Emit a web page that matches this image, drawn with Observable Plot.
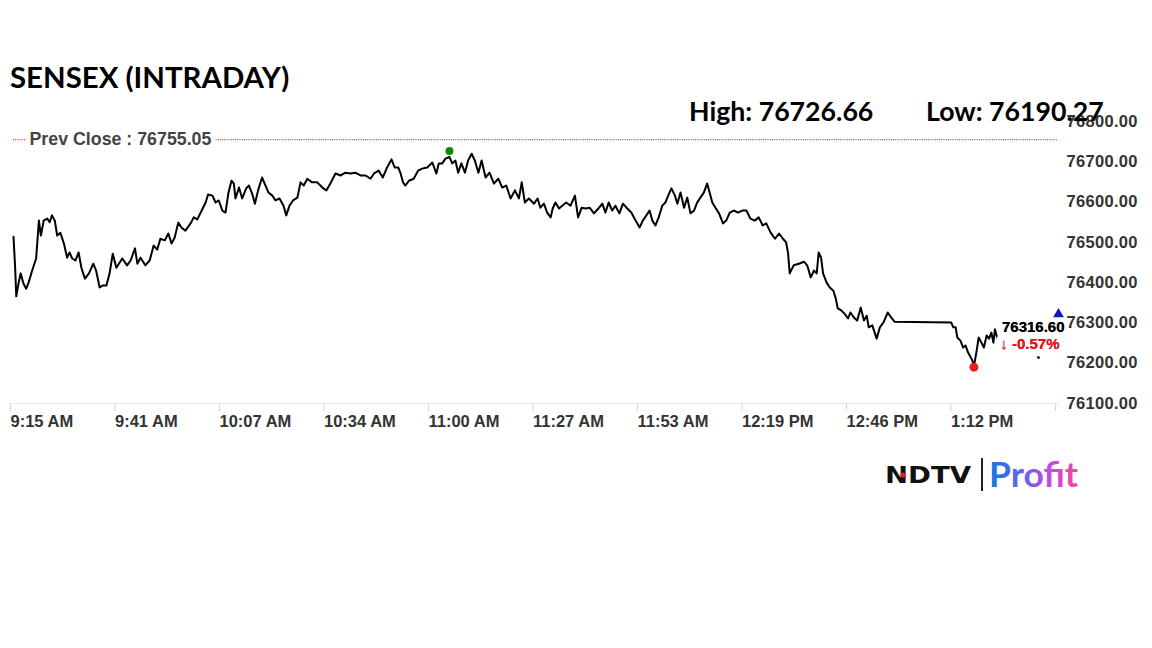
<!DOCTYPE html>
<html>
<head>
<meta charset="utf-8">
<script src="https://cdn.jsdelivr.net/npm/d3@7"></script>
<script src="https://cdn.jsdelivr.net/npm/@observablehq/plot@0.6"></script>
<style>
  html, body { margin: 0; padding: 0; background: #fff; }
  #wrap { position: relative; width: 1152px; height: 648px; overflow: hidden; }
  #overlay { position: absolute; left: 0; top: 0; pointer-events: none; }
  g[aria-label="y-axis tick label"] text { letter-spacing: 0.3px; }
</style>
</head>
<body>
<div id="wrap"></div>
<script>
// ---------------- DATA ----------------
const titleText = "SENSEX (INTRADAY)";
const prevClose = 76755.05;
const dayHigh = 76726.66;
const highTime = 109.8;   // minutes after 9:15
const dayLow = 76190.27;
const lowTime = 241.9;
const lastPrice = 76316.60;
const changePct = -0.57;

// minutes after 9:15 AM
const times = [
  0, 0.4, 0.7, 1.3, 1.8, 2.5, 3.2, 3.8, 4.7, 5.7,
  6.4, 6.9, 7.6, 8.5, 9.1, 9.7, 10.4, 11.0, 11.8, 12.7,
  13.5, 14.1, 14.8, 15.6, 16.4, 17.1, 18.0, 19.0, 20.1, 20.8,
  21.7, 22.5, 23.4, 24.2, 25.0, 25.9, 27.4, 28.6, 29.5, 30.6,
  31.2, 32.0, 33.2, 34.3, 35.3, 36.2, 37.0, 38.1, 39.0, 39.8,
  40.6, 41.5, 42.3, 43.3, 44.6, 45.4, 46.3, 47.4, 48.4, 49.0,
  50.1, 50.9, 51.7, 52.6, 53.4, 54.1, 54.9, 55.5, 55.9, 56.8,
  57.6, 58.6, 59.3, 60.1, 60.8, 61.6, 62.6, 63.5, 64.2, 65.2,
  66.0, 67.0, 68.0, 68.7, 69.5, 70.4, 71.5, 72.3, 73.1, 74.0,
  75.2, 76.5, 77.8, 78.8, 79.8, 81.1, 82.4, 83.6, 84.9, 86.1,
  87.4, 88.7, 89.9, 90.8, 92.0, 93.0, 94.1, 95.2, 96.0, 96.9,
  97.5, 98.1, 98.7, 99.6, 100.8, 101.9, 102.9, 104.2, 105.5, 106.5,
  107.1, 108.0, 108.8, 109.8, 110.5, 111.3, 112.0, 112.8, 113.7, 114.5,
  115.4, 116.2, 117.1, 117.9, 118.9, 119.9, 121.0, 122.1, 123.1, 124.1,
  125.2, 126.3, 127.3, 128.0, 128.8, 129.8, 131.1, 132.0, 132.7, 133.6,
  134.4, 135.3, 135.8, 136.5, 137.4, 138.2, 139.2, 140.3, 141.4, 142.2,
  143.1, 144.1, 145.1, 146.2, 147.3, 148.3, 149.1, 149.9, 150.8, 151.6,
  152.6, 153.5, 154.6, 155.6, 156.7, 157.7, 158.5, 159.4, 160.2, 160.9,
  161.7, 162.5, 163.4, 164.2, 164.9, 165.7, 166.6, 167.2, 168.0, 168.9,
  169.7, 170.5, 171.4, 172.2, 173.0, 173.9, 174.7, 175.4, 176.0, 176.8,
  177.7, 178.7, 179.5, 180.4, 181.4, 182.5, 183.5, 184.6, 185.6, 186.7,
  187.7, 188.7, 189.6, 190.7, 191.8, 192.8, 193.8, 194.6, 195.1, 195.5,
  196.5, 197.8, 199.1, 199.9, 200.8, 201.6, 202.3, 202.8, 203.4, 203.9,
  204.8, 205.6, 206.5, 207.1, 207.6, 208.5, 209.3, 210.2, 210.8, 211.7,
  212.5, 213.4, 214.2, 214.9, 215.4, 216.3, 217.4, 218.2, 219.1, 220.2,
  221.1, 221.9, 236.2, 236.7, 237.3, 237.7, 238.5, 239.2, 239.8, 240.4,
  241.5, 241.9, 242.6, 243.1, 243.8, 244.4, 245.1, 245.7, 246.3, 246.8,
  247.2, 248.8, 250.1, 252.4, 254.9, 256.9, 258.2, 259.2, 260.7, 261.7
];
const prices = [
  76514, 76440, 76366, 76400, 76423, 76398, 76385, 76400, 76430, 76460,
  76554, 76517, 76554, 76559, 76550, 76567, 76554, 76517, 76524, 76497,
  76462, 76475, 76460, 76455, 76475, 76437, 76410, 76423, 76447, 76430,
  76388, 76393, 76393, 76423, 76472, 76437, 76460, 76443, 76455, 76485,
  76447, 76462, 76443, 76455, 76492, 76482, 76509, 76505, 76522, 76497,
  76512, 76549, 76537, 76529, 76547, 76562, 76557, 76579, 76599, 76619,
  76616, 76599, 76604, 76579, 76574, 76621, 76653, 76646, 76609, 76636,
  76609, 76634, 76641, 76621, 76596, 76629, 76661, 76640, 76624, 76616,
  76604, 76609, 76591, 76567, 76591, 76604, 76611, 76649, 76641, 76658,
  76649, 76649, 76636, 76629, 76646, 76671, 76666, 76673, 76671, 76673,
  76666, 76666, 76658, 76671, 76678, 76661, 76686, 76706, 76686, 76686,
  76671, 76649, 76641, 76653, 76658, 76678, 76683, 76686, 76698, 76671,
  76696, 76696, 76708, 76712, 76696, 76703, 76673, 76696, 76673, 76703,
  76720, 76703, 76673, 76703, 76661, 76673, 76646, 76658, 76636, 76641,
  76609, 76629, 76609, 76649, 76599, 76609, 76596, 76609, 76586, 76596,
  76574, 76562, 76584, 76599, 76584, 76591, 76599, 76591, 76616, 76562,
  76586, 76584, 76586, 76572, 76584, 76596, 76574, 76599, 76579, 76591,
  76572, 76596, 76584, 76574, 76554, 76537, 76554, 76567, 76579, 76554,
  76542, 76562, 76591, 76599, 76616, 76634, 76616, 76596, 76624, 76586,
  76611, 76572, 76579, 76599, 76611, 76624, 76646, 76621, 76599, 76586,
  76572, 76547, 76554, 76574, 76579, 76574, 76579, 76579, 76559, 76554,
  76562, 76542, 76547, 76524, 76509, 76522, 76509, 76500, 76472, 76423,
  76443, 76447, 76452, 76443, 76413, 76430, 76423, 76475, 76462, 76423,
  76400, 76388, 76380, 76361, 76336, 76331, 76323, 76311, 76326, 76313,
  76306, 76338, 76306, 76318, 76289, 76294, 76261, 76289, 76301, 76326,
  76313, 76303, 76301, 76289, 76289, 76264, 76256, 76239, 76244, 76227,
  76207, 76192, 76232, 76264, 76251, 76239, 76269, 76261, 76276, 76251,
  76284, 76226, 76270, 76255, 76262, 76240, 76213, 76250, 76290, 76316.6
];

const xTickLabels = ["9:15 AM", "9:41 AM", "10:07 AM", "10:34 AM", "11:00 AM",
  "11:27 AM", "11:53 AM", "12:19 PM", "12:46 PM", "1:12 PM", ""];
const sessionSpan = 263.2; // minutes shown on the axis
const yTicks = [76100, 76200, 76300, 76400, 76500, 76600, 76700, 76800];

// ---------------- BUILD ----------------
const n = Math.min(times.length, prices.length);
const series = d3.range(n).map(i => ({m: times[i], p: prices[i]}));
const step = sessionSpan / (xTickLabels.length - 1);
const xTicks = xTickLabels.map((_, i) => i * step);
const last = series[series.length - 1];

const chart = Plot.plot({
  width: 1152,
  height: 648,
  marginLeft: 13,
  marginRight: 94,
  marginTop: 121,
  marginBottom: 245,
  x: {domain: [0, sessionSpan]},
  y: {domain: [yTicks[0], yTicks[yTicks.length - 1]]},
  style: {fontFamily: "'Liberation Sans', Arial, sans-serif", background: "white", overflow: "visible"},
  marks: [
    Plot.ruleY([yTicks[0]], {stroke: "#e3e3e3", strokeWidth: 1}),
    Plot.axisX({
      ticks: xTicks,
      tickFormat: d => xTickLabels[Math.round(d / step)],
      textAnchor: "start",
      tickSize: 8,
      tickPadding: 4,
      dx: -3,
      stroke: "#d6d6d6",
      fill: "#333",
      fontSize: 16.5,
      fontWeight: "bold",
      label: null
    }),
    Plot.ruleY([prevClose], {stroke: "#e03a3a", strokeWidth: 1.1, strokeDasharray: "1,1.2"}),
    Plot.text([prevClose], {
      y: d => d,
      frameAnchor: "left",
      dx: 16,
      text: d => "Prev Close : " + d.toFixed(2),
      textAnchor: "start",
      fill: "#444",
      stroke: "white",
      strokeWidth: 9,
      fontSize: 17.8,
      fontWeight: "bold"
    }),
    Plot.line(series, {x: "m", y: "p", stroke: "#000", strokeWidth: 2, strokeLinejoin: "round"}),
    Plot.dot([{m: highTime, p: dayHigh}], {x: "m", y: "p", r: 4, fill: "#0b8a0b", stroke: null}),
    Plot.dot([{m: lowTime, p: dayLow}], {x: "m", y: "p", r: 4.5, fill: "#ee1c1c", stroke: null}),
    // last price label (white box effect)
    Plot.text([last], {
      x: "m", y: "p", dx: 12, dy: 11,
      text: d => d.p.toFixed(2),
      textAnchor: "end",
      fill: "#000",
      stroke: "white",
      strokeWidth: 14,
      fontSize: 15,
      fontWeight: "bold"
    }),
    Plot.text([last], {
      x: "m", y: "p", dx: 7, dy: 28,
      text: () => "\u2193 " + changePct.toFixed(2) + "%",
      textAnchor: "end",
      fill: "#e4141b",
      stroke: "white",
      strokeWidth: 15,
      fontSize: 15,
      fontWeight: "bold"
    }),
    Plot.text([last], {
      x: "m", y: "p", dx: 7, dy: 28,
      text: () => "\u2193 " + changePct.toFixed(2) + "%",
      textAnchor: "end",
      fill: "#e4141b",
      fontSize: 15,
      fontWeight: "bold"
    }),
    Plot.text([last], {
      x: "m", y: "p", dx: 12, dy: 11,
      text: d => d.p.toFixed(2),
      textAnchor: "end",
      fill: "#000",
      fontSize: 15,
      fontWeight: "bold"
    }),
    Plot.axisY({
      anchor: "right",
      ticks: yTicks,
      tickFormat: d => d.toFixed(2),
      tickSize: 0,
      tickPadding: 8,
      textAnchor: "start",
      fill: "#333",
      fontSize: 16.5,
      fontWeight: "bold",
      label: null
    }),
    Plot.dot([lastPrice], {
      y: d => d, frameAnchor: "right", dy: -2,
      symbol: "triangle", r: 4, fill: "#1414c8", stroke: null
    })
  ]
});

const wrap = document.getElementById("wrap");
wrap.appendChild(chart);

// ---------- overlay: title, high/low, logo ----------
const ns = "http://www.w3.org/2000/svg";
const ov = d3.select(wrap).append("svg")
  .attr("id", "overlay").attr("width", 1152).attr("height", 648)
  .attr("xmlns", ns);

ov.append("text").attr("x", 10).attr("y", 88)
  .attr("font-family", "Lato, 'Open Sans', sans-serif").attr("font-weight", 700)
  .attr("font-size", 29.4).attr("fill", "#000").text(titleText);

ov.append("text").attr("x", 689).attr("y", 121)
  .attr("font-family", "Lato, 'Open Sans', sans-serif").attr("font-weight", 700)
  .attr("font-size", 26.7).attr("fill", "#000").text("High: " + dayHigh.toFixed(2));
ov.append("text").attr("x", 926).attr("y", 121)
  .attr("font-family", "Lato, 'Open Sans', sans-serif").attr("font-weight", 700)
  .attr("font-size", 26.7).attr("fill", "#000").text("Low: " + dayLow.toFixed(2));

// logo
const defs = ov.append("defs");
const grad = defs.append("linearGradient").attr("id", "pg")
  .attr("x1", "0%").attr("x2", "100%").attr("y1", "0%").attr("y2", "0%");
grad.append("stop").attr("offset", "0%").attr("stop-color", "#1479e0");
grad.append("stop").attr("offset", "40%").attr("stop-color", "#6a63ea");
grad.append("stop").attr("offset", "75%").attr("stop-color", "#d447d8");
grad.append("stop").attr("offset", "100%").attr("stop-color", "#f0488f");

ov.append("text").attr("x", 885).attr("y", 483)
  .attr("font-family", "'DejaVu Sans', sans-serif").attr("font-weight", 700)
  .attr("font-size", 23).attr("textLength", 86).attr("lengthAdjust", "spacingAndGlyphs")
  .attr("fill", "#111").text("NDTV");
ov.append("circle").attr("cx", 903).attr("cy", 475).attr("r", 2.6).attr("fill", "#e31b23");
ov.append("line").attr("x1", 982).attr("x2", 982).attr("y1", 458).attr("y2", 491)
  .attr("stroke", "#222").attr("stroke-width", 2);
ov.append("text").attr("x", 989).attr("y", 487)
  .attr("font-family", "Lato, 'Open Sans', sans-serif").attr("font-weight", 700)
  .attr("font-size", 34.5).attr("textLength", 89).attr("lengthAdjust", "spacingAndGlyphs")
  .attr("fill", "url(#pg)").text("Profit");
</script>
</body>
</html>
